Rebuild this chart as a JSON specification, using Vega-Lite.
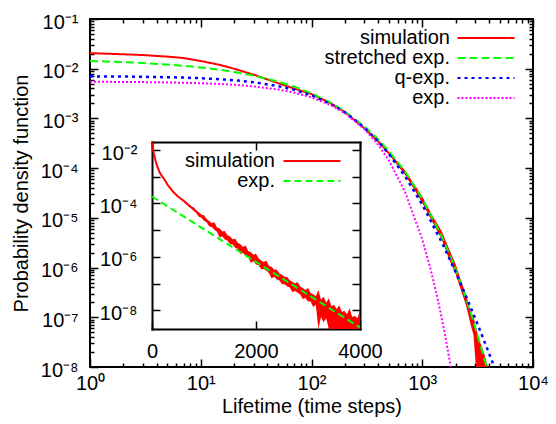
{
  "$schema": "https://vega.github.io/schema/vega-lite/v6.json",
  "width": 443,
  "height": 348,
  "autosize": "none",
  "padding": {"left": 90, "top": 19, "right": 23, "bottom": 57},
  "config": {
    "font": "Liberation Sans",
    "view": {"stroke": "black", "strokeWidth": 2},
    "axis": {"labelFont": "Liberation Sans", "labelFontSize": 20, "labelColor": "black", "titleFont": "Liberation Sans", "titleFontSize": 20, "titleFontWeight": "normal", "titleColor": "black", "tickColor": "black", "tickWidth": 1.5, "domain": false, "grid": false, "labelFlush": false, "labelOverlap": false, "labelBound": false},
    "legend": {"labelFont": "Liberation Sans", "labelFontSize": 20, "labelColor": "black"}
  },
  "datasets": {
    "main": [
      {"s": "simulation", "x": 1, "y": 0.0206}, {"s": "simulation", "x": 1.5, "y": 0.01995}, {"s": "simulation", "x": 2, "y": 0.0195}, {"s": "simulation", "x": 3, "y": 0.01884}, {"s": "simulation", "x": 5, "y": 0.0175}, {"s": "simulation", "x": 7, "y": 0.0164}, {"s": "simulation", "x": 10, "y": 0.01429}, {"s": "simulation", "x": 15, "y": 0.01189}, {"s": "simulation", "x": 20, "y": 0.0100}, {"s": "simulation", "x": 30, "y": 0.00759}, {"s": "simulation", "x": 50, "y": 0.00513}, {"s": "simulation", "x": 70, "y": 0.00398}, {"s": "simulation", "x": 100, "y": 0.00309}, {"s": "simulation", "x": 150, "y": 0.0020}, {"s": "simulation", "x": 200, "y": 0.00135}, {"s": "simulation", "x": 300, "y": 0.000631}, {"s": "simulation", "x": 400, "y": 0.000347}, {"s": "simulation", "x": 500, "y": 0.0002}, {"s": "simulation", "x": 700, "y": 0.0000794}, {"s": "simulation", "x": 1000, "y": 0.0000229}, {"s": "simulation", "x": 1500, "y": 0.00000417}, {"s": "simulation", "x": 2000, "y": 9.12e-7}, {"s": "simulation", "x": 2500, "y": 2.09e-7}, {"s": "simulation", "x": 3000, "y": 4.68e-8}, {"s": "simulation", "x": 3400, "y": 1.12e-8},
      {"s": "stretched exp.", "x": 1, "y": 0.01432}, {"s": "stretched exp.", "x": 2, "y": 0.01358}, {"s": "stretched exp.", "x": 3, "y": 0.01303}, {"s": "stretched exp.", "x": 5, "y": 0.01213}, {"s": "stretched exp.", "x": 7, "y": 0.01146}, {"s": "stretched exp.", "x": 10, "y": 0.01059}, {"s": "stretched exp.", "x": 15, "y": 0.00948}, {"s": "stretched exp.", "x": 20, "y": 0.00861}, {"s": "stretched exp.", "x": 30, "y": 0.00726}, {"s": "stretched exp.", "x": 50, "y": 0.0055}, {"s": "stretched exp.", "x": 70, "y": 0.00435}, {"s": "stretched exp.", "x": 100, "y": 0.00318}, {"s": "stretched exp.", "x": 150, "y": 0.00205}, {"s": "stretched exp.", "x": 200, "y": 0.00139}, {"s": "stretched exp.", "x": 300, "y": 0.000692}, {"s": "stretched exp.", "x": 400, "y": 0.00038}, {"s": "stretched exp.", "x": 500, "y": 0.000219}, {"s": "stretched exp.", "x": 700, "y": 0.0000851}, {"s": "stretched exp.", "x": 1000, "y": 0.0000245}, {"s": "stretched exp.", "x": 1500, "y": 0.00000427}, {"s": "stretched exp.", "x": 2000, "y": 9.33e-7}, {"s": "stretched exp.", "x": 2500, "y": 2.34e-7}, {"s": "stretched exp.", "x": 3000, "y": 6.46e-8}, {"s": "stretched exp.", "x": 3500, "y": 1.95e-8}, {"s": "stretched exp.", "x": 3820, "y": 1.0e-8},
      {"s": "q-exp.", "x": 1, "y": 0.00702}, {"s": "q-exp.", "x": 2, "y": 0.00695}, {"s": "q-exp.", "x": 3, "y": 0.00688}, {"s": "q-exp.", "x": 5, "y": 0.00675}, {"s": "q-exp.", "x": 7, "y": 0.00662}, {"s": "q-exp.", "x": 10, "y": 0.00644}, {"s": "q-exp.", "x": 15, "y": 0.00615}, {"s": "q-exp.", "x": 20, "y": 0.00587}, {"s": "q-exp.", "x": 30, "y": 0.00535}, {"s": "q-exp.", "x": 50, "y": 0.00447}, {"s": "q-exp.", "x": 70, "y": 0.00375}, {"s": "q-exp.", "x": 100, "y": 0.00291}, {"s": "q-exp.", "x": 150, "y": 0.00194}, {"s": "q-exp.", "x": 200, "y": 0.001324}, {"s": "q-exp.", "x": 300, "y": 0.000653}, {"s": "q-exp.", "x": 400, "y": 0.000345}, {"s": "q-exp.", "x": 500, "y": 0.000192}, {"s": "q-exp.", "x": 700, "y": 0.0000682}, {"s": "q-exp.", "x": 1000, "y": 0.0000185}, {"s": "q-exp.", "x": 1500, "y": 0.00000324}, {"s": "q-exp.", "x": 2000, "y": 8.12e-7}, {"s": "q-exp.", "x": 2500, "y": 2.57e-7}, {"s": "q-exp.", "x": 3000, "y": 9.63e-8}, {"s": "q-exp.", "x": 3500, "y": 4.08e-8}, {"s": "q-exp.", "x": 4000, "y": 1.9e-8}, {"s": "q-exp.", "x": 4470, "y": 1.0e-8},
      {"s": "exp.", "x": 1, "y": 0.00546}, {"s": "exp.", "x": 2, "y": 0.00542}, {"s": "exp.", "x": 3, "y": 0.00538}, {"s": "exp.", "x": 5, "y": 0.0053}, {"s": "exp.", "x": 7, "y": 0.00522}, {"s": "exp.", "x": 10, "y": 0.00511}, {"s": "exp.", "x": 15, "y": 0.00492}, {"s": "exp.", "x": 20, "y": 0.00475}, {"s": "exp.", "x": 30, "y": 0.00442}, {"s": "exp.", "x": 50, "y": 0.00381}, {"s": "exp.", "x": 70, "y": 0.0033}, {"s": "exp.", "x": 100, "y": 0.00265}, {"s": "exp.", "x": 150, "y": 0.00184}, {"s": "exp.", "x": 200, "y": 0.001276}, {"s": "exp.", "x": 300, "y": 0.000615}, {"s": "exp.", "x": 400, "y": 0.000296}, {"s": "exp.", "x": 500, "y": 0.000143}, {"s": "exp.", "x": 700, "y": 0.0000332}, {"s": "exp.", "x": 1000, "y": 0.00000372}, {"s": "exp.", "x": 1200, "y": 8.63e-7}, {"s": "exp.", "x": 1400, "y": 2.0e-7}, {"s": "exp.", "x": 1600, "y": 4.66e-8}, {"s": "exp.", "x": 1811, "y": 1.0e-8}
    ],
    "band": [
      {"x": 500, "lo": 0.0001905, "hi": 0.000209}, {"x": 600, "lo": 0.0001159, "hi": 0.0001321}, {"x": 700, "lo": 0.0000745, "hi": 0.0000895}, {"x": 850, "lo": 0.0000367, "hi": 0.0000468}, {"x": 1000, "lo": 0.0000202, "hi": 0.000027}, {"x": 1200, "lo": 0.0000094, "hi": 0.00001236}, {"x": 1500, "lo": 0.00000373, "hi": 0.0000054}, {"x": 1750, "lo": 0.000001459, "hi": 0.00000235}, {"x": 2000, "lo": 7.5e-7, "hi": 0.000001175}, {"x": 2250, "lo": 3.39e-7, "hi": 5.28e-7}, {"x": 2500, "lo": 1.675e-7, "hi": 2.75e-7}, {"x": 2750, "lo": 6.79e-8, "hi": 1.253e-7}, {"x": 2900, "lo": 4.44e-8, "hi": 1.05e-7}, {"x": 3050, "lo": 1.0e-8, "hi": 6.31e-8}, {"x": 3250, "lo": 1.0e-8, "hi": 3.55e-8}, {"x": 3500, "lo": 1.0e-8, "hi": 2.4e-8}, {"x": 3750, "lo": 1.0e-8, "hi": 1.41e-8}, {"x": 3920, "lo": 1.0e-8, "hi": 1.0e-8}
    ],
    "inset": [
      {"s": "simulation", "x": 1, "y": 0.0204}, {"s": "simulation", "x": 5, "y": 0.0166}, {"s": "simulation", "x": 10, "y": 0.0138}, {"s": "simulation", "x": 20, "y": 0.01047}, {"s": "simulation", "x": 35, "y": 0.00759}, {"s": "simulation", "x": 50, "y": 0.00575}, {"s": "simulation", "x": 75, "y": 0.00355}, {"s": "simulation", "x": 100, "y": 0.00251}, {"s": "simulation", "x": 150, "y": 0.00141}, {"s": "simulation", "x": 200, "y": 0.001}, {"s": "simulation", "x": 250, "y": 0.000741}, {"s": "simulation", "x": 300, "y": 0.000501}, {"s": "simulation", "x": 400, "y": 0.000282}, {"s": "simulation", "x": 500, "y": 0.000182}, {"s": "simulation", "x": 600, "y": 0.000129}, {"s": "simulation", "x": 800, "y": 0.0000603}, {"s": "simulation", "x": 1000, "y": 0.0000275}, {"s": "simulation", "x": 1250, "y": 0.00001047}, {"s": "simulation", "x": 1500, "y": 0.00000437}, {"s": "simulation", "x": 1900, "y": 0.00000107}, {"s": "simulation", "x": 2500, "y": 1.51e-7}, {"s": "simulation", "x": 3000, "y": 3.55e-8}, {"s": "simulation", "x": 3400, "y": 1.17e-8},
      {"s": "exp.", "x": 0, "y": 0.000182}, {"s": "exp.", "x": 2000, "y": 6.46e-7}, {"s": "exp.", "x": 4000, "y": 2.29e-9}
    ],
    "insetband": [
      {"x": 600, "lo": 0.0001219, "hi": 0.000138}, {"x": 650, "lo": 0.0001, "hi": 0.0001148}, {"x": 700, "lo": 0.0000789, "hi": 0.000094}, {"x": 750, "lo": 0.0000676, "hi": 0.0000776}, {"x": 800, "lo": 0.0000547, "hi": 0.0000721}, {"x": 850, "lo": 0.0000452, "hi": 0.0000543}, {"x": 900, "lo": 0.0000321, "hi": 0.0000472}, {"x": 950, "lo": 0.0000299, "hi": 0.0000376}, {"x": 1000, "lo": 0.0000224, "hi": 0.0000363}, {"x": 1050, "lo": 0.00001972, "hi": 0.000026}, {"x": 1100, "lo": 0.00001374, "hi": 0.000022}, {"x": 1150, "lo": 0.00001303, "hi": 0.000018}, {"x": 1200, "lo": 0.00001038, "hi": 0.00001977}, {"x": 1250, "lo": 0.00000871, "hi": 0.00001259}, {"x": 1300, "lo": 0.00000537, "hi": 0.00001189}, {"x": 1350, "lo": 0.00000596, "hi": 0.00000902}, {"x": 1400, "lo": 0.00000451, "hi": 0.00000925}, {"x": 1450, "lo": 0.00000412, "hi": 0.00000653}, {"x": 1500, "lo": 0.00000295, "hi": 0.00000585}, {"x": 1550, "lo": 0.00000292, "hi": 0.00000462}, {"x": 1600, "lo": 0.00000218, "hi": 0.00000479}, {"x": 1650, "lo": 0.00000202, "hi": 0.00000335}, {"x": 1700, "lo": 0.000001294, "hi": 0.00000297}, {"x": 1750, "lo": 0.000001413, "hi": 0.00000234}, {"x": 1800, "lo": 0.000001114, "hi": 0.00000267}, {"x": 1850, "lo": 9.66e-7, "hi": 0.000001679}, {"x": 1900, "lo": 6.07e-7, "hi": 0.000001521}, {"x": 1950, "lo": 6.92e-7, "hi": 0.000001202}, {"x": 2000, "lo": 5.24e-7, "hi": 0.000001312}, {"x": 2050, "lo": 4.9e-7, "hi": 8.91e-7}, {"x": 2100, "lo": 3.48e-7, "hi": 7.31e-7}, {"x": 2150, "lo": 3.51e-7, "hi": 6.38e-7}, {"x": 2200, "lo": 3.06e-7, "hi": 7.34e-7}, {"x": 2250, "lo": 2.51e-7, "hi": 4.57e-7}, {"x": 2300, "lo": 1.563e-7, "hi": 4.28e-7}, {"x": 2350, "lo": 1.82e-7, "hi": 3.31e-7}, {"x": 2400, "lo": 1.44e-7, "hi": 3.38e-7}, {"x": 2450, "lo": 1.318e-7, "hi": 2.4e-7}, {"x": 2500, "lo": 9.55e-8, "hi": 2.14e-7}, {"x": 2550, "lo": 9.44e-8, "hi": 1.8e-7}, {"x": 2600, "lo": 7.76e-8, "hi": 1.778e-7}, {"x": 2650, "lo": 7.08e-8, "hi": 1.349e-7}, {"x": 2700, "lo": 4.9e-8, "hi": 1.175e-7}, {"x": 2750, "lo": 5.31e-8, "hi": 1.012e-7}, {"x": 2800, "lo": 4.57e-8, "hi": 1.148e-7}, {"x": 2850, "lo": 3.89e-8, "hi": 7.76e-8}, {"x": 2900, "lo": 2.63e-8, "hi": 6.92e-8}, {"x": 2950, "lo": 2.92e-8, "hi": 5.82e-8}, {"x": 3000, "lo": 2.16e-8, "hi": 6.89e-8}, {"x": 3050, "lo": 2.14e-8, "hi": 4.47e-8}, {"x": 3100, "lo": 1.324e-8, "hi": 3.96e-8}, {"x": 3150, "lo": 1.622e-8, "hi": 3.39e-8}, {"x": 3200, "lo": 2.0e-9, "hi": 5.73e-8}, {"x": 3250, "lo": 5.62e-9, "hi": 2.51e-8}, {"x": 3300, "lo": 3.55e-9, "hi": 3.2e-8}, {"x": 3350, "lo": 5.01e-9, "hi": 1.905e-8}, {"x": 3400, "lo": 2.0e-9, "hi": 2.85e-8}, {"x": 3450, "lo": 2.0e-9, "hi": 1.413e-8}, {"x": 3500, "lo": 2.0e-9, "hi": 1.622e-8}, {"x": 3550, "lo": 2.0e-9, "hi": 1.122e-8}, {"x": 3600, "lo": 2.0e-9, "hi": 1.549e-8}, {"x": 3650, "lo": 2.0e-9, "hi": 8.91e-9}, {"x": 3700, "lo": 2.0e-9, "hi": 9.44e-9}, {"x": 3750, "lo": 2.0e-9, "hi": 7.08e-9}, {"x": 3800, "lo": 2.0e-9, "hi": 1.189e-8}, {"x": 3850, "lo": 2.0e-9, "hi": 5.62e-9}, {"x": 3900, "lo": 2.0e-9, "hi": 6.17e-9}, {"x": 3950, "lo": 2.0e-9, "hi": 5.01e-9}, {"x": 4000, "lo": 2.0e-9, "hi": 1.0e-8}
    ]
  },
  "layer": [
    {
      "layer": [
        {
          "data": {"name": "band"},
          "mark": {"type": "area", "color": "#ff0000", "clip": true},
          "encoding": {
            "x": {"field": "x", "type": "quantitative", "scale": {"type": "log", "domain": [1, 10000], "nice": false}, "axis": null},
            "y": {"field": "lo", "type": "quantitative", "scale": {"type": "log", "domain": [1e-8, 0.1], "nice": false}, "axis": null},
            "y2": {"field": "hi"}
          }
        },
        {
          "data": {"name": "main"},
          "transform": [{"filter": "datum.s == 'simulation'"}],
          "mark": {"type": "line", "strokeWidth": 2, "clip": true},
          "encoding": {
            "x": {"field": "x", "type": "quantitative", "scale": {"type": "log", "domain": [1, 10000], "nice": false},
              "axis": {"orient": "bottom", "values": [1, 10, 100, 1000, 10000], "labelExpr": "'10' + ['⁰','¹','²','³','⁴'][round(log(datum.value)/LN10)]", "tickSize": -8, "labelPadding": 14, "title": "Lifetime (time steps)", "titleY": 45, "titleBaseline": "alphabetic"}},
            "y": {"field": "y", "type": "quantitative", "scale": {"type": "log", "domain": [1e-8, 0.1], "nice": false},
              "axis": {"orient": "left", "values": [1e-8, 1e-7, 1e-6, 1e-5, 1e-4, 1e-3, 1e-2, 1e-1], "labelExpr": "'10⁻' + ['⁰','¹','²','³','⁴','⁵','⁶','⁷','⁸','⁹'][round(-log(datum.value)/LN10)]", "tickSize": -8, "labelPadding": 20, "labelOffset": 3, "title": "Probability density function", "titleAngle": -90, "titleX": -63, "titleY": 174, "titleBaseline": "alphabetic", "titleAlign": "center"}},
            "color": {"field": "s", "type": "nominal", "scale": {"domain": ["simulation", "stretched exp.", "q-exp.", "exp."], "range": ["#ff0000", "#00ff00", "#0000ff", "#ff00ff"]},
              "legend": {"title": null, "orient": "none", "legendX": 386, "legendY": 9, "padding": 0, "symbolType": "M-5.7,0H5.7", "symbolSize": 100, "symbolStrokeWidth": 2, "labelAlign": "right", "labelOffset": -46, "rowPadding": 0, "labelLimit": 0}},
            "strokeDash": {"field": "s", "type": "nominal", "scale": {"domain": ["simulation", "stretched exp.", "q-exp.", "exp."], "range": [[1, 0], [8, 4], [3, 4], [2, 2]]},
              "legend": {"title": null, "orient": "none", "legendX": 386, "legendY": 9, "padding": 0, "symbolType": "M-5.7,0H5.7", "symbolSize": 100, "symbolStrokeWidth": 2, "labelAlign": "right", "labelOffset": -46, "rowPadding": 0, "labelLimit": 0}}
          }
        },
        {
          "data": {"name": "main"},
          "transform": [{"filter": "datum.s == 'stretched exp.'"}],
          "mark": {"type": "line", "strokeWidth": 2, "clip": true},
          "encoding": {
            "x": {"field": "x", "type": "quantitative", "scale": {"type": "log", "domain": [1, 10000], "nice": false},
              "axis": {"orient": "bottom", "values": [2,3,4,5,6,7,8,9,20,30,40,50,60,70,80,90,200,300,400,500,600,700,800,900,2000,3000,4000,5000,6000,7000,8000,9000], "labels": false, "tickSize": -4, "title": null}},
            "y": {"field": "y", "type": "quantitative", "scale": {"type": "log", "domain": [1e-8, 0.1], "nice": false},
              "axis": {"orient": "left", "values": [2e-8,3e-8,4e-8,5e-8,6e-8,7e-8,8e-8,9e-8,2e-7,3e-7,4e-7,5e-7,6e-7,7e-7,8e-7,9e-7,2e-6,3e-6,4e-6,5e-6,6e-6,7e-6,8e-6,9e-6,2e-5,3e-5,4e-5,5e-5,6e-5,7e-5,8e-5,9e-5,2e-4,3e-4,4e-4,5e-4,6e-4,7e-4,8e-4,9e-4,2e-3,3e-3,4e-3,5e-3,6e-3,7e-3,8e-3,9e-3,2e-2,3e-2,4e-2,5e-2,6e-2,7e-2,8e-2,9e-2], "labels": false, "tickSize": -4, "title": null}},
            "color": {"field": "s", "type": "nominal", "scale": {"domain": ["simulation", "stretched exp.", "q-exp.", "exp."], "range": ["#ff0000", "#00ff00", "#0000ff", "#ff00ff"]}, "legend": null},
            "strokeDash": {"field": "s", "type": "nominal", "scale": {"domain": ["simulation", "stretched exp.", "q-exp.", "exp."], "range": [[1, 0], [8, 4], [3, 4], [2, 2]]}, "legend": null}
          }
        },
        {
          "data": {"name": "main"},
          "transform": [{"filter": "datum.s == 'q-exp.'"}],
          "mark": {"type": "line", "strokeWidth": 2.5, "clip": true},
          "encoding": {
            "x": {"field": "x", "type": "quantitative", "scale": {"type": "log", "domain": [1, 10000], "nice": false},
              "axis": {"orient": "top", "values": [1, 10, 100, 1000, 10000], "labels": false, "tickSize": -8, "title": null}},
            "y": {"field": "y", "type": "quantitative", "scale": {"type": "log", "domain": [1e-8, 0.1], "nice": false},
              "axis": {"orient": "right", "values": [1e-8, 1e-7, 1e-6, 1e-5, 1e-4, 1e-3, 1e-2, 1e-1], "labels": false, "tickSize": -8, "title": null}},
            "color": {"field": "s", "type": "nominal", "scale": {"domain": ["simulation", "stretched exp.", "q-exp.", "exp."], "range": ["#ff0000", "#00ff00", "#0000ff", "#ff00ff"]}, "legend": null},
            "strokeDash": {"field": "s", "type": "nominal", "scale": {"domain": ["simulation", "stretched exp.", "q-exp.", "exp."], "range": [[1, 0], [8, 4], [3, 4], [2, 2]]}, "legend": null}
          }
        },
        {
          "data": {"name": "main"},
          "transform": [{"filter": "datum.s == 'exp.'"}],
          "mark": {"type": "line", "strokeWidth": 2, "clip": true},
          "encoding": {
            "x": {"field": "x", "type": "quantitative", "scale": {"type": "log", "domain": [1, 10000], "nice": false},
              "axis": {"orient": "top", "values": [2,3,4,5,6,7,8,9,20,30,40,50,60,70,80,90,200,300,400,500,600,700,800,900,2000,3000,4000,5000,6000,7000,8000,9000], "labels": false, "tickSize": -4, "title": null}},
            "y": {"field": "y", "type": "quantitative", "scale": {"type": "log", "domain": [1e-8, 0.1], "nice": false},
              "axis": {"orient": "right", "values": [2e-8,3e-8,4e-8,5e-8,6e-8,7e-8,8e-8,9e-8,2e-7,3e-7,4e-7,5e-7,6e-7,7e-7,8e-7,9e-7,2e-6,3e-6,4e-6,5e-6,6e-6,7e-6,8e-6,9e-6,2e-5,3e-5,4e-5,5e-5,6e-5,7e-5,8e-5,9e-5,2e-4,3e-4,4e-4,5e-4,6e-4,7e-4,8e-4,9e-4,2e-3,3e-3,4e-3,5e-3,6e-3,7e-3,8e-3,9e-3,2e-2,3e-2,4e-2,5e-2,6e-2,7e-2,8e-2,9e-2], "labels": false, "tickSize": -4, "title": null}},
            "color": {"field": "s", "type": "nominal", "scale": {"domain": ["simulation", "stretched exp.", "q-exp.", "exp."], "range": ["#ff0000", "#00ff00", "#0000ff", "#ff00ff"]}, "legend": null},
            "strokeDash": {"field": "s", "type": "nominal", "scale": {"domain": ["simulation", "stretched exp.", "q-exp.", "exp."], "range": [[1, 0], [8, 4], [3, 4], [2, 2]]}, "legend": null}
          }
        }
      ],
      "resolve": {"scale": {"x": "independent", "y": "independent"}, "axis": {"x": "independent", "y": "independent"}}
    },
    {
      "layer": [
        {
          "data": {"name": "insetband"},
          "mark": {"type": "area", "color": "#ff0000"},
          "encoding": {
            "x": {"field": "x", "type": "quantitative", "scale": {"type": "linear", "domain": [0, 4000], "range": [62, 270], "nice": false, "zero": false}, "axis": null},
            "y": {"field": "lo", "type": "quantitative", "scale": {"type": "log", "domain": [2e-9, 0.02], "range": [310, 123], "nice": false}, "axis": null},
            "y2": {"field": "hi"}
          }
        },
        {
          "data": {"name": "inset"},
          "transform": [{"filter": "datum.s == 'simulation'"}],
          "mark": {"type": "line", "strokeWidth": 2},
          "encoding": {
            "x": {"field": "x", "type": "quantitative", "scale": {"type": "linear", "domain": [0, 4000], "range": [62, 270], "nice": false, "zero": false},
              "axis": {"orient": "bottom", "offset": -38, "values": [0, 2000, 4000], "format": "d", "tickSize": -8, "labelPadding": 20, "title": null, "domain": true, "domainColor": "black", "domainWidth": 2, "domainCap": "square"}},
            "y": {"field": "y", "type": "quantitative", "scale": {"type": "log", "domain": [2e-9, 0.02], "range": [310, 123], "nice": false},
              "axis": {"orient": "left", "offset": -62, "values": [1e-8, 1e-7, 1e-6, 1e-5, 1e-4, 1e-3, 1e-2], "labelExpr": "round(-log(datum.value)/LN10) % 2 == 0 ? '10⁻' + ['⁰','¹','²','³','⁴','⁵','⁶','⁷','⁸','⁹'][round(-log(datum.value)/LN10)] : ''", "tickSize": -8, "labelPadding": 23, "labelOffset": 3, "title": null, "domain": true, "domainColor": "black", "domainWidth": 2, "domainCap": "square"}},
            "color": {"field": "s", "type": "nominal", "scale": {"domain": ["simulation", "exp."], "range": ["#ff0000", "#00ff00"]},
              "legend": {"title": null, "orient": "none", "legendX": 212, "legendY": 132, "padding": 0, "symbolType": "M-5.7,0H5.7", "symbolSize": 100, "symbolStrokeWidth": 2, "labelAlign": "right", "labelOffset": -47, "rowPadding": 0, "labelLimit": 0}},
            "strokeDash": {"field": "s", "type": "nominal", "scale": {"domain": ["simulation", "exp."], "range": [[1, 0], [7, 4]]},
              "legend": {"title": null, "orient": "none", "legendX": 212, "legendY": 132, "padding": 0, "symbolType": "M-5.7,0H5.7", "symbolSize": 100, "symbolStrokeWidth": 2, "labelAlign": "right", "labelOffset": -47, "rowPadding": 0, "labelLimit": 0}}
          }
        },
        {
          "data": {"name": "inset"},
          "transform": [{"filter": "datum.s == 'exp.'"}],
          "mark": {"type": "line", "strokeWidth": 2},
          "encoding": {
            "x": {"field": "x", "type": "quantitative", "scale": {"type": "linear", "domain": [0, 4000], "range": [62, 270], "nice": false, "zero": false},
              "axis": {"orient": "top", "offset": -123, "values": [0, 2000, 4000], "labels": false, "tickSize": -8, "title": null, "domain": true, "domainColor": "black", "domainWidth": 2, "domainCap": "square"}},
            "y": {"field": "y", "type": "quantitative", "scale": {"type": "log", "domain": [2e-9, 0.02], "range": [310, 123], "nice": false},
              "axis": {"orient": "right", "offset": -173, "values": [1e-8, 1e-7, 1e-6, 1e-5, 1e-4, 1e-3, 1e-2], "labels": false, "tickSize": -8, "title": null, "domain": true, "domainColor": "black", "domainWidth": 2, "domainCap": "square"}},
            "color": {"field": "s", "type": "nominal", "scale": {"domain": ["simulation", "exp."], "range": ["#ff0000", "#00ff00"]}, "legend": null},
            "strokeDash": {"field": "s", "type": "nominal", "scale": {"domain": ["simulation", "exp."], "range": [[1, 0], [7, 4]]}, "legend": null}
          }
        }
      ],
      "resolve": {"scale": {"x": "independent", "y": "independent"}, "axis": {"x": "independent", "y": "independent"}}
    }
  ],
  "resolve": {
    "scale": {"x": "independent", "y": "independent", "color": "independent", "strokeDash": "independent"},
    "axis": {"x": "independent", "y": "independent"},
    "legend": {"color": "independent", "strokeDash": "independent"}
  }
}
